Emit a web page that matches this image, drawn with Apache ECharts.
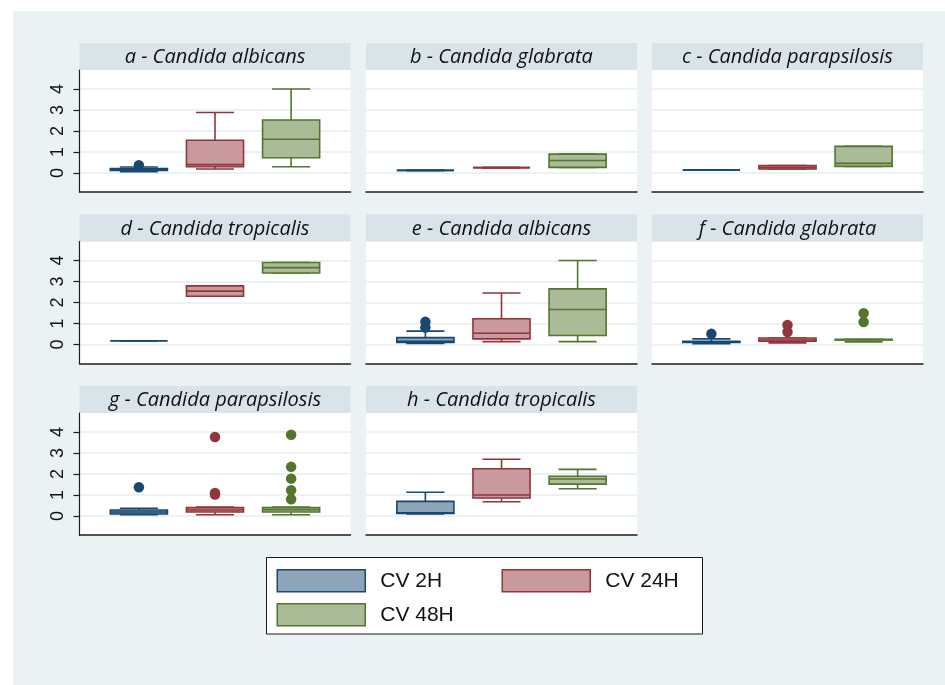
<!DOCTYPE html>
<html>
<head>
<meta charset="utf-8">
<script src="https://cdn.jsdelivr.net/npm/echarts@6/dist/echarts.min.js"></script>
<style>
  html, body { margin: 0; padding: 0; background: #ffffff; }
  #bg { position: absolute; left: 13px; top: 11px; width: 932px; height: 674px; background: #eaf2f3; }
  #chart { position: absolute; left: 0; top: 0; width: 945px; height: 685px; }
</style>
</head>
<body>
<div id="bg"></div>
<div id="chart"></div>
<script>
// Panel titles, one per species / condition
const panelTitles = [
  'a - Candida albicans', 'b - Candida glabrata', 'c - Candida parapsilosis',
  'd - Candida tropicalis', 'e - Candida albicans', 'f - Candida glabrata',
  'g - Candida parapsilosis', 'h - Candida tropicalis'
];
const groupNames = ['CV 2H', 'CV 24H', 'CV 48H'];
const yTickValues = [0, 1, 2, 3, 4];

// Box summaries per panel: [lower adjacent, Q1, median, Q3, upper adjacent]
const boxesCV2H = [
  [0.06, 0.12, 0.17, 0.21, 0.29],
  [0.13, 0.13, 0.13, 0.13, 0.13],
  [0.14, 0.14, 0.14, 0.14, 0.14],
  [0.18, 0.18, 0.18, 0.18, 0.18],
  [0.05, 0.10, 0.15, 0.33, 0.64],
  [0.04, 0.10, 0.13, 0.16, 0.27],
  [0.06, 0.10, 0.19, 0.29, 0.37],
  [0.10, 0.13, 0.15, 0.70, 1.13]
];
const boxesCV24H = [
  [0.19, 0.30, 0.40, 1.56, 2.88],
  [0.26, 0.26, 0.26, 0.26, 0.26],
  [0.19, 0.19, 0.27, 0.36, 0.36],
  [2.30, 2.30, 2.54, 2.79, 2.79],
  [0.14, 0.27, 0.54, 1.23, 2.45],
  [0.08, 0.16, 0.22, 0.31, 0.31],
  [0.06, 0.19, 0.29, 0.40, 0.43],
  [0.68, 0.86, 1.00, 2.25, 2.70]
];
const boxesCV48H = [
  [0.30, 0.73, 1.61, 2.52, 4.00],
  [0.27, 0.27, 0.60, 0.90, 0.90],
  [0.32, 0.32, 0.46, 1.27, 1.27],
  [3.40, 3.40, 3.66, 3.90, 3.90],
  [0.14, 0.43, 1.67, 2.65, 4.00],
  [0.13, 0.22, 0.23, 0.25, 0.25],
  [0.06, 0.19, 0.30, 0.40, 0.43],
  [1.30, 1.52, 1.76, 1.89, 2.22]
];

// Outside values per panel
const outliersCV2H = [[0.37], [], [], [], [0.81, 1.08], [0.51], [1.37], []];
const outliersCV24H = [[], [], [], [], [], [0.60, 0.93], [1.02, 1.10, 3.76], []];
const outliersCV48H = [[], [], [], [], [], [1.07, 1.49], [0.80, 1.23, 1.78, 2.34, 3.87], []];

const strokeColors = ['#1a476f', '#90353b', '#55752f'];
const fillColors = ['#8da4b9', '#c8999d', '#aabb97'];

const groupSets = [
  { boxes: boxesCV2H, outliers: outliersCV2H },
  { boxes: boxesCV24H, outliers: outliersCV24H },
  { boxes: boxesCV48H, outliers: outliersCV48H }
];

// Panel layout (pixels)
const colLeft = [79.5, 366, 652];
const colWidth = 271;
const rowTop = [70, 241.5, 413];
const plotHeight = 122;
const bandHeight = 27;

const BOX_W = 0.75;   // box width in x-axis units
const CAP_W = 0.5;    // whisker cap width in x-axis units

function makeBoxRenderer(stroke, fill) {
  return function (params, api) {
    const x = api.value(0);
    const lw = api.value(1), q1 = api.value(2), med = api.value(3), q3 = api.value(4), uw = api.value(5);
    const cx = api.coord([x, med])[0];
    const half = api.size([BOX_W, 0])[0] / 2;
    const capHalf = api.size([CAP_W, 0])[0] / 2;
    const yl = api.coord([x, lw])[1];
    const y1 = api.coord([x, q1])[1];
    const ym = api.coord([x, med])[1];
    const y3 = api.coord([x, q3])[1];
    const yu = api.coord([x, uw])[1];
    const ls = { stroke: stroke, lineWidth: 1.6, fill: null };
    return {
      type: 'group',
      children: [
        { type: 'line', shape: { x1: cx, y1: y3, x2: cx, y2: yu }, style: ls },
        { type: 'line', shape: { x1: cx, y1: y1, x2: cx, y2: yl }, style: ls },
        { type: 'line', shape: { x1: cx - capHalf, y1: yu, x2: cx + capHalf, y2: yu }, style: ls },
        { type: 'line', shape: { x1: cx - capHalf, y1: yl, x2: cx + capHalf, y2: yl }, style: ls },
        { type: 'rect', shape: { x: cx - half, y: y3, width: 2 * half, height: y1 - y3 },
          style: { fill: fill, stroke: stroke, lineWidth: 1.6 } },
        { type: 'line', shape: { x1: cx - half, y1: ym, x2: cx + half, y2: ym }, style: ls }
      ]
    };
  };
}

const grids = [], xAxes = [], yAxes = [], series = [], graphics = [];

panelTitles.forEach((title, p) => {
  const row = Math.floor(p / 3), col = p % 3;
  const left = colLeft[col], top = rowTop[row];
  grids.push({
    left: left, top: top, width: colWidth, height: plotHeight,
    show: true, backgroundColor: '#ffffff', borderWidth: 0,
    containLabel: false, outerBoundsMode: 'none'
  });
  xAxes.push({
    gridIndex: p, type: 'value', min: 0.22, max: 3.78, position: 'bottom',
    axisLine: { show: true, onZero: false, lineStyle: { color: '#1e1e1e', width: 1.5 } },
    axisTick: { show: false }, axisLabel: { show: false }, splitLine: { show: false }
  });
  yAxes.push({
    gridIndex: p, type: 'value', min: -0.9, max: 4.9,
    axisLine: { show: col === 0, onZero: false, lineStyle: { color: '#1e1e1e', width: 1.2 } },
    axisTick: { show: col === 0, length: 6, customValues: yTickValues, lineStyle: { color: '#1e1e1e', width: 1.2 } },
    axisLabel: {
      show: col === 0, customValues: yTickValues, rotate: 90, margin: 12,
      fontFamily: 'Liberation Sans', fontSize: 18, color: '#111111'
    },
    splitLine: { show: true, lineStyle: { color: '#e6eef1', width: 1.7 } }
  });
  // strip above each panel holding its title
  graphics.push({
    type: 'rect', shape: { x: left, y: top - bandHeight, width: colWidth, height: bandHeight },
    style: { fill: '#d8e4ea' }, silent: true
  });
  graphics.push({
    type: 'text', x: left + colWidth / 2, y: top - bandHeight / 2 + 1, silent: true,
    style: {
      text: title, fill: '#111111', fontFamily: 'Open Sans', fontStyle: 'italic', fontSize: 20,
      align: 'center', verticalAlign: 'middle', textAlign: 'center', textVerticalAlign: 'middle'
    }
  });

  groupSets.forEach((set, g) => {
    series.push({
      type: 'custom', name: groupNames[g], xAxisIndex: p, yAxisIndex: p,
      renderItem: makeBoxRenderer(strokeColors[g], fillColors[g]),
      encode: { x: 0, y: [1, 2, 3, 4, 5] },
      itemStyle: { color: fillColors[g], borderColor: strokeColors[g] },
      data: [[g + 1].concat(set.boxes[p])],
      z: 2, silent: true
    });
    if (set.outliers[p].length) {
      series.push({
        type: 'scatter', name: groupNames[g], xAxisIndex: p, yAxisIndex: p,
        symbol: 'circle', symbolSize: 10.5,
        itemStyle: { color: strokeColors[g], opacity: 1 },
        data: set.outliers[p].map(v => [g + 1, v]),
        z: 3, silent: true
      });
    }
  });
});

// White framed box behind the two legend columns
graphics.push({
  type: 'rect', shape: { x: 266.5, y: 557.5, width: 436, height: 76.5 },
  style: { fill: '#ffffff', stroke: '#1a1a1a', lineWidth: 1 }, silent: true
});

const legendCommon = {
  orient: 'vertical', padding: 0, itemGap: 10.5, itemWidth: 88, itemHeight: 22,
  selectedMode: false,
  textStyle: { fontFamily: 'Liberation Sans', fontSize: 21, color: '#111111', padding: [0, 0, 0, 10] }
};
const legendItem = n => {
  const g = groupNames.indexOf(n);
  return {
    name: n, icon: 'rect',
    itemStyle: { color: fillColors[g], borderColor: strokeColors[g], borderWidth: 1.5 }
  };
};

const chart = echarts.init(document.getElementById('chart'), null, { renderer: 'canvas' });
chart.setOption({
  backgroundColor: 'transparent',
  animation: false,
  textStyle: { fontFamily: 'Liberation Sans' },
  grid: grids,
  xAxis: xAxes,
  yAxis: yAxes,
  graphic: { elements: graphics },
  legend: [
    Object.assign({ left: 276.5, top: 569, data: ['CV 2H', 'CV 48H'].map(legendItem) }, legendCommon),
    Object.assign({ left: 501.5, top: 569, data: ['CV 24H'].map(legendItem) }, legendCommon)
  ],
  series: series
});
</script>
</body>
</html>
